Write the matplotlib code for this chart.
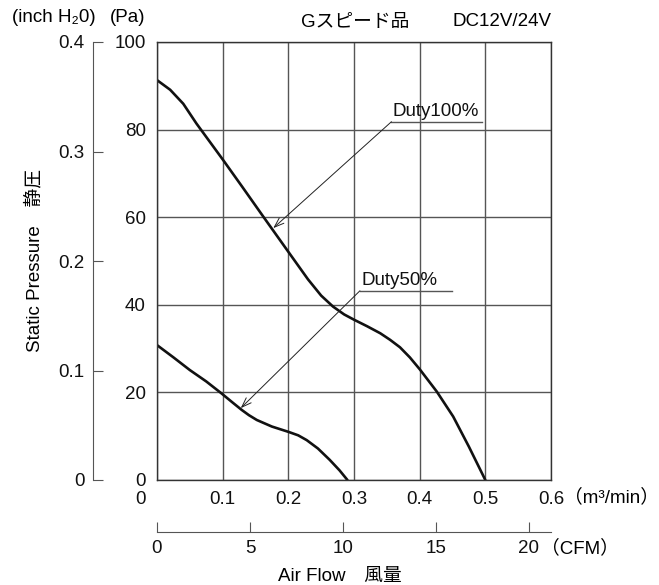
import matplotlib
matplotlib.use("Agg")
import matplotlib.pyplot as plt
import matplotlib.transforms as mtransforms

plt.rcParams['font.family'] = ['Liberation Sans', 'Noto Sans CJK JP', 'DejaVu Sans']

# datos (m3/min, Pa)
flujo_100 = [0, 0.02, 0.04, 0.06, 0.08, 0.1, 0.13, 0.162, 0.2, 0.23, 0.25, 0.268,
             0.285, 0.3, 0.32, 0.34, 0.355, 0.37, 0.385, 0.4, 0.426, 0.451, 0.475, 0.5]
presion_100 = [91.3, 89.1, 85.9, 81.4, 77.3, 73.2, 66.9, 60.1, 52.1, 45.8, 42.1, 39.6,
               37.8, 36.6, 35.1, 33.5, 32.0, 30.3, 28.0, 25.3, 20.2, 14.5, 7.6, 0]
flujo_50 = [0, 0.025, 0.05, 0.075, 0.098, 0.115, 0.129, 0.14, 0.152, 0.175, 0.2,
            0.215, 0.228, 0.245, 0.263, 0.278, 0.29]
presion_50 = [30.8, 28.0, 25.1, 22.5, 19.8, 17.7, 16.0, 14.8, 13.7, 12.2, 11.0,
              10.2, 9.1, 7.2, 4.6, 2.2, 0]

ticks_m3 = [0, 0.1, 0.2, 0.3, 0.4, 0.5, 0.6]
ticks_pa = [0, 20, 40, 60, 80, 100]
ticks_inch = [0, 0.1, 0.2, 0.3, 0.4]
ticks_cfm = [0, 5, 10, 15, 20]
CFM_POR_M3 = 35.3147

# etiquetas: (texto, x_texto, y_linea, x_fin_linea, x_flecha, y_flecha)
etiquetas = [
    ("Duty100%", 0.357, 81.8, 0.495, 0.177, 57.5),
    ("Duty50%", 0.309, 43.2, 0.449, 0.1275, 16.4),
]

W, H = 659, 585
fs = 13.5
fig = plt.figure(figsize=(W / 100, H / 100), dpi=100)
izq, der, arriba, abajo = 157, 551, 42, 480
pos = [izq / W, 1 - abajo / H, (der - izq) / W, (abajo - arriba) / H]
ax = fig.add_axes(pos)

gris = '#555555'
ax.set_xlim(0, 0.6)
ax.set_ylim(0, 100)
ax.set_xticks(ticks_m3)
ax.set_yticks(ticks_pa)
ax.set_xticklabels(['0', '0.1', '0.2', '0.3', '0.4', '0.5', '0.6'])
ax.set_yticklabels([str(t) for t in ticks_pa])
ax.tick_params(length=0, labelsize=fs, colors='#111111')
ax.tick_params(axis='x', pad=8)
ax.tick_params(axis='y', pad=8)
ax.grid(True, color=gris, lw=1.0)
for s in ax.spines.values():
    s.set_color('#333333')
    s.set_linewidth(1.0)

# desplazar la etiqueta "0" a la izquierda
lbl0 = ax.get_xticklabels()[0]
lbl0.set_transform(lbl0.get_transform() +
                   mtransforms.ScaledTranslation(-0.17, 0, fig.dpi_scale_trans))

ax.plot(flujo_100, presion_100, color='#111111', lw=1.9, solid_capstyle='round')
ax.plot(flujo_50, presion_50, color='#111111', lw=1.9, solid_capstyle='round')

for texto, xt, yl, xf, xa, ya in etiquetas:
    ax.text(xt + 0.002, yl + 0.4, texto, fontsize=fs, ha='left', va='bottom',
            color='#111111')
    ax.plot([xt, xf], [yl, yl], color=gris, lw=1.0)
    ax.annotate('', xy=(xa, ya), xytext=(xt, yl),
                arrowprops=dict(arrowstyle='->,head_length=0.7,head_width=0.25',
                                lw=0.7, color='#222222', shrinkA=0, shrinkB=0))

# eje secundario inch H2O
ax_in = fig.add_axes([93 / W, pos[1], 0.0001, pos[3]])
ax_in.set_ylim(0, 0.4)
ax_in.set_yticks(ticks_inch)
ax_in.set_yticklabels(['0', '0.1', '0.2', '0.3', '0.4'])
ax_in.set_xticks([])
ax_in.patch.set_visible(False)
for k in ['right', 'top', 'bottom']:
    ax_in.spines[k].set_visible(False)
ax_in.spines['left'].set_color(gris)
ax_in.tick_params(axis='y', direction='in', length=7, color=gris, pad=6,
                  labelsize=fs, labelcolor='#111111')

# eje secundario CFM
ax_cfm = fig.add_axes([pos[0], 1 - 532 / H, pos[2], 0.0001])
ax_cfm.set_xlim(0, 0.6 * CFM_POR_M3)
ax_cfm.set_xticks(ticks_cfm)
ax_cfm.set_xticklabels([str(t) for t in ticks_cfm])
ax_cfm.set_yticks([])
ax_cfm.patch.set_visible(False)
for k in ['right', 'top', 'left']:
    ax_cfm.spines[k].set_visible(False)
ax_cfm.spines['bottom'].set_color(gris)
ax_cfm.tick_params(axis='x', direction='in', length=7, color=gris, pad=6,
                   labelsize=fs, labelcolor='#111111')

# textos
fig.text(12 / W, 1 - 18 / H, '(inch H₂0)', fontsize=fs, ha='left', va='center')
fig.text(110 / W, 1 - 18 / H, '(Pa)', fontsize=fs, ha='left', va='center')
fig.text(355 / W, 1 - 22 / H, 'Gスピード品', fontsize=fs, ha='center', va='center')
fig.text(551 / W, 1 - 22 / H, 'DC12V/24V', fontsize=fs, ha='right', va='center')
fig.text(564 / W, 1 - 497 / H, '（m³/min）', fontsize=fs, ha='left', va='center')
fig.text(541 / W, 1 - 548 / H, '（CFM）', fontsize=fs, ha='left', va='center')
fig.text(340 / W, 1 - 576 / H, 'Air Flow　風量', fontsize=fs, ha='center', va='center')
fig.text(35 / W, 1 - 261 / H, 'Static Pressure　静圧', fontsize=fs, ha='center',
         va='center', rotation=90)

fig.savefig('out.png', dpi=100)
